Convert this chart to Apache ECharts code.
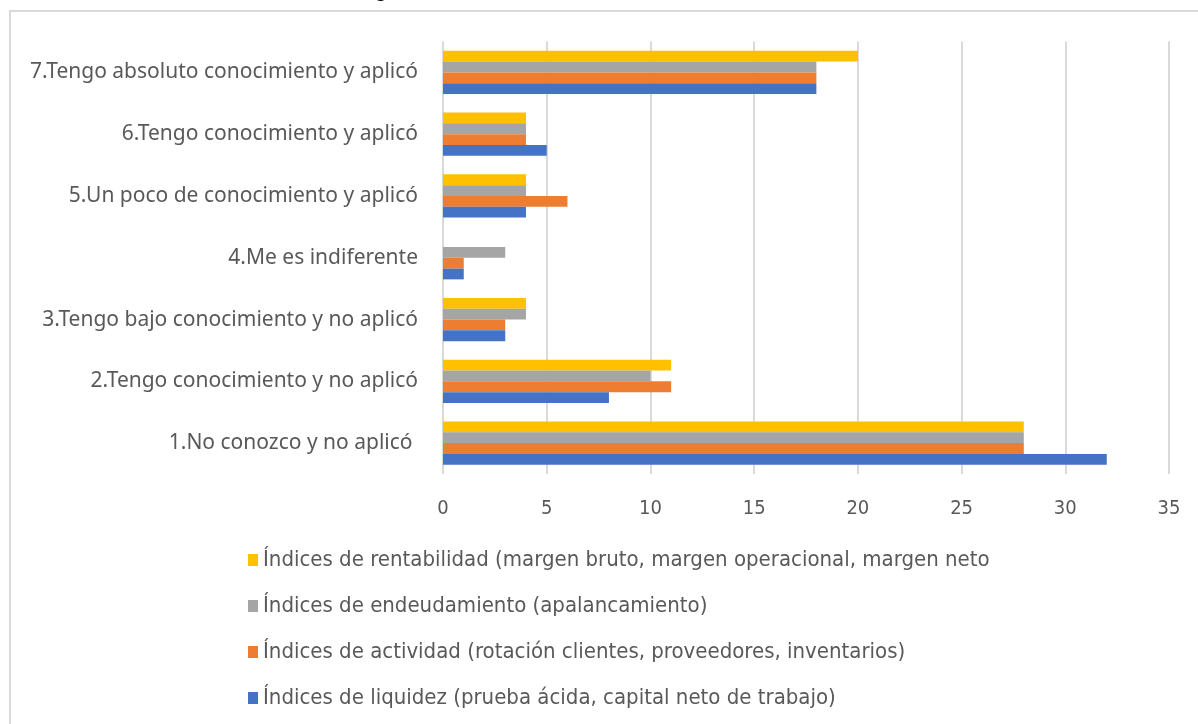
<!DOCTYPE html>
<html>
<head>
<meta charset="utf-8">
<script src="https://cdn.jsdelivr.net/npm/echarts@6/dist/echarts.min.js"></script>
<style>
    html, body { margin: 0; padding: 0; background: #fff; }
    #chart { width: 1198px; height: 724px; }
</style>
</head>
<body>
<div id="chart"></div>
<script>
// categories, bottom to top
var categories = [
    '1.No conozco y no aplicó ',
    '2.Tengo conocimiento y no aplicó',
    '3.Tengo bajo conocimiento y no aplicó',
    '4.Me es indiferente',
    '5.Un poco de conocimiento y aplicó',
    '6.Tengo conocimiento y aplicó',
    '7.Tengo absoluto conocimiento y aplicó'
];
var seriesNames = [
    'Índices de rentabilidad (margen bruto, margen operacional, margen neto',
    'Índices de endeudamiento (apalancamiento)',
    'Índices de actividad (rotación clientes, proveedores, inventarios)',
    'Índices de liquidez (prueba ácida, capital neto de trabajo)'
];
var rentabilidad = [28, 11, 4, 0, 4, 4, 20];
var endeudamiento = [28, 10, 4, 3, 4, 4, 18];
var actividad = [28, 11, 3, 1, 6, 4, 18];
var liquidez = [32, 8, 3, 1, 4, 5, 18];
var xTicks = [0, 5, 10, 15, 20, 25, 30, 35];

var colors = ['#FFC000', '#A5A5A5', '#ED7D31', '#4472C4'];
var values = [rentabilidad, endeudamiento, actividad, liquidez];

var myChart = echarts.init(document.getElementById('chart'));

var series = seriesNames.map(function (name, i) {
    return {
        name: name,
        type: 'bar',
        data: values[i],
        barGap: '0%',
        barCategoryGap: '30%',
        itemStyle: {color: colors[i]}
    };
});

var option = {
    animation: false,
    color: colors,
    graphic: [
        {
            type: 'rect',
            shape: {x: 10, y: 11, width: 1300, height: 800},
            style: {fill: 'none', stroke: '#D9D9D9', lineWidth: 2},
            silent: true
        },
        {
            // title is cut off by the top edge of the picture
            type: 'text',
            left: 357,
            top: -19,
            style: {text: 'Figura', font: 'bold 20px "Liberation Sans", Arial', fill: '#000'}
        }
    ],
    grid: {
        left: 443,
        right: 29,
        top: 41.5,
        bottom: 250,
        containLabel: false
    },
    legend: {
        orient: 'vertical',
        left: 243,
        top: 544,
        itemWidth: 10,
        itemHeight: 12,
        itemGap: 24,
        icon: 'rect',
        data: seriesNames,
        textStyle: {
            color: '#595959',
            fontSize: 22,
            lineHeight: 22,
            fontFamily: '"Liberation Sans Narrow", "DejaVu Sans Condensed", sans-serif'
        }
    },
    xAxis: {
        type: 'value',
        min: 0,
        max: 35,
        interval: 5,
        axisLine: {show: false},
        axisTick: {show: false},
        axisLabel: {
            margin: 25,
            color: '#595959',
            fontSize: 20,
            fontFamily: '"Liberation Sans Narrow", "DejaVu Sans Condensed", sans-serif',
            formatter: function (v) {
                return xTicks.indexOf(v) >= 0 ? String(v) : '';
            }
        },
        splitLine: {lineStyle: {color: '#D9D9D9', width: 2}}
    },
    yAxis: {
        type: 'category',
        data: categories,
        axisLine: {show: false},
        axisTick: {show: false},
        axisLabel: {
            margin: 25,
            color: '#595959',
            fontSize: 21,
            fontFamily: '"Noto Sans", sans-serif'
        }
    },
    series: series
};
myChart.setOption(option);
</script>
</body>
</html>
